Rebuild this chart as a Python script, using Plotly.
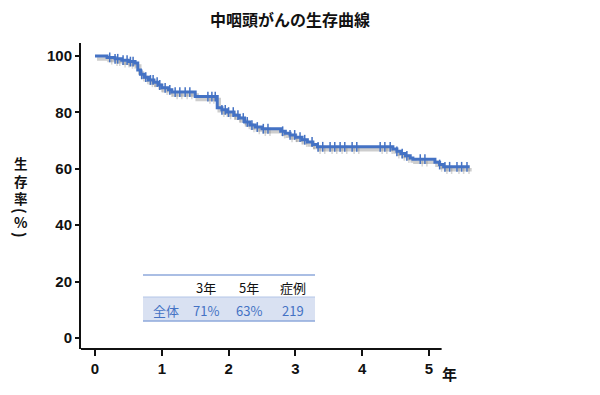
import numpy as np
import plotly.graph_objects as go

# ---- data ----
step_times = [0, 0.18, 0.30, 0.40, 0.50, 0.60, 0.64, 0.68, 0.74, 0.80, 0.88, 0.95, 1.00, 1.10, 1.15,
              1.50, 1.83, 1.90, 1.98, 2.08, 2.16, 2.24, 2.32, 2.40, 2.50, 2.78, 2.85, 2.92, 3.00,
              3.10, 3.18, 3.26, 3.33, 4.46, 4.52, 4.58, 4.65, 4.72, 4.76, 5.09, 5.16, 5.22, 5.61]
step_surv = [100, 99.5, 99, 98.5, 98, 97.5, 95, 93.5, 92.5, 91.5, 90.7, 89.7, 88.7, 88, 87.2,
             85.6, 81.6, 80.9, 80.1, 79, 78, 76.6, 75.5, 74.8, 74.2, 73.3, 72.6, 72, 71.2,
             70.3, 69.5, 68.6, 67.8, 67, 66.2, 65.4, 64.6, 63.8, 63.4, 62.3, 61.5, 60.7, 60.7]
censor_times = [0.22, 0.30, 0.34, 0.42, 0.48, 0.53, 0.57, 0.70, 0.76, 0.83, 0.87, 0.93, 0.97,
                1.05, 1.12, 1.20, 1.27, 1.35, 1.42, 1.69, 1.75, 1.80, 1.90, 1.95, 2.00, 2.07,
                2.14, 2.22, 2.28, 2.35, 2.43, 2.52, 2.59, 2.81, 2.92, 2.99, 3.07, 3.14, 3.25,
                3.34, 3.41, 3.52, 3.59, 3.67, 3.74, 3.85, 3.92, 4.27, 4.34, 4.42, 4.52, 4.60,
                4.67, 4.87, 4.94, 5.16, 5.24, 5.31, 5.42, 5.49, 5.57]
x_ticks = [0, 1, 2, 3, 4, 5]
y_ticks = [0, 20, 40, 60, 80, 100]
table_header = ["3年", "5年", "症例"]
table_group = "全体"
table_values = ["71%", "63%", "219"]
y_title_main = ["生", "存", "率"]
y_title_unit = ["(", "%", ")"]

BLUE = "#4472C4"
JP = "Noto Sans CJK JP"

st = np.array(step_times)
ss = np.array(step_surv)
ct = np.array(censor_times)
idx = np.searchsorted(st, ct, side="right") - 1
cs = ss[idx]

fig = go.Figure()
# soft shadow (offset by a couple of pixels)
dx, dy = 2.0 / 66.8, -3.0 / 2.82
fig.add_trace(go.Scatter(x=st + dx, y=ss + dy, mode="lines", line=dict(color="rgba(90,90,90,0.3)", width=3.5, shape="hv"),
                         hoverinfo="skip", showlegend=False))
fig.add_trace(go.Scatter(x=ct + dx, y=cs + dy, mode="markers",
                         marker=dict(symbol="line-ns", size=6, line=dict(width=1.5, color="rgba(90,90,90,0.25)")),
                         hoverinfo="skip", showlegend=False))
fig.add_trace(go.Scatter(x=st, y=ss, mode="lines", line=dict(color=BLUE, width=3, shape="hv"), showlegend=False))
fig.add_trace(go.Scatter(x=ct, y=cs, mode="markers",
                         marker=dict(symbol="line-ns", size=7, line=dict(width=1.5, color=BLUE)), showlegend=False))

# page offset (the html body has an 8px margin)
OFF = 8
W, H = 600 - OFF, 395 - OFF
L, R, T, B = 81, 475, 43, 349  # plot area in window pixels
pw, ph = R - L, B - T
def px(x):
    return (x - L) / pw
def py(y):
    return (B - y) / ph

xr = [-0.21, 5.69]
fig.update_layout(
    width=W, height=H,
    margin=dict(l=L - OFF, r=600 - R, t=T - OFF, b=395 - B),
    plot_bgcolor="white", paper_bgcolor="white",
    showlegend=False,
    xaxis=dict(range=xr, tickvals=x_ticks, ticktext=[f"<b>{v}</b>" for v in x_ticks], ticks="outside",
               ticklen=6, tickwidth=2, tickcolor="#111", showline=False, showgrid=False, zeroline=False,
               automargin=False, tickfont=dict(family="Liberation Sans", size=15, color="#111")),
    yaxis=dict(range=[-3.9, 104.6], tickvals=y_ticks, ticktext=[f"<b>{v}</b>" for v in y_ticks], ticks="outside",
               ticklen=4, tickwidth=2, tickcolor="#111", showline=True, linewidth=2, linecolor="#111",
               showgrid=False, zeroline=False, automargin=False,
               tickfont=dict(family="Liberation Sans", size=15, color="#111")),
)

shapes = [
    dict(type="line", xref="x", yref="paper", x0=xr[0], x1=5.19, y0=0, y1=0, line=dict(color="#111", width=2)),
    dict(type="rect", xref="paper", yref="paper", x0=px(143), x1=px(315), y0=py(321), y1=py(297),
         fillcolor="#D9E1F2", line=dict(width=0), layer="below"),
    dict(type="line", xref="paper", yref="paper", x0=px(143), x1=px(315), y0=py(275), y1=py(275),
         line=dict(color="#8EA9DB", width=1.5)),
    dict(type="line", xref="paper", yref="paper", x0=px(143), x1=px(315), y0=py(297), y1=py(297),
         line=dict(color="#B4C6E7", width=1)),
    dict(type="line", xref="paper", yref="paper", x0=px(143), x1=px(315), y0=py(321), y1=py(321),
         line=dict(color="#8EA9DB", width=1.5)),
]
fig.update_layout(shapes=shapes)

def txt(text, x, y, size, color, angle=0):
    return dict(text=text, x=px(x), y=py(y), xref="paper", yref="paper", showarrow=False,
                xanchor="center", yanchor="middle", textangle=angle,
                font=dict(family=JP, size=size, color=color))

ann = []
# title
ann.append(txt("<b>中咽頭がんの生存曲線</b>", 290, 18.5, 16, "#111"))
col_x = [206, 249, 293]
for cx, h in zip(col_x, table_header):
    ann.append(txt(h, cx, 287, 13, "#111"))
ann.append(txt(table_group, 166, 310, 13, BLUE))
for cx, v in zip(col_x, table_values):
    ann.append(txt(v, cx, 310, 13, BLUE))
ann.append(txt("<b>年</b>", 449, 373, 15, "#111"))
# vertical y-axis title: stacked characters, with the unit's brackets turned sideways
ann.append(txt("<b>" + "<br>".join(y_title_main) + "</b>", 21, 180, 13.5, "#111"))
unit_y = [211, 222, 235]
unit_angle = [90, 0, 90]
unit_size = [15, 14, 15]
for ch, yy, ang, sz in zip(y_title_unit, unit_y, unit_angle, unit_size):
    ann.append(txt(f"<b>{ch}</b>", 21, yy, sz, "#111", ang))
fig.update_layout(annotations=ann)

fig.write_html("out.html")
